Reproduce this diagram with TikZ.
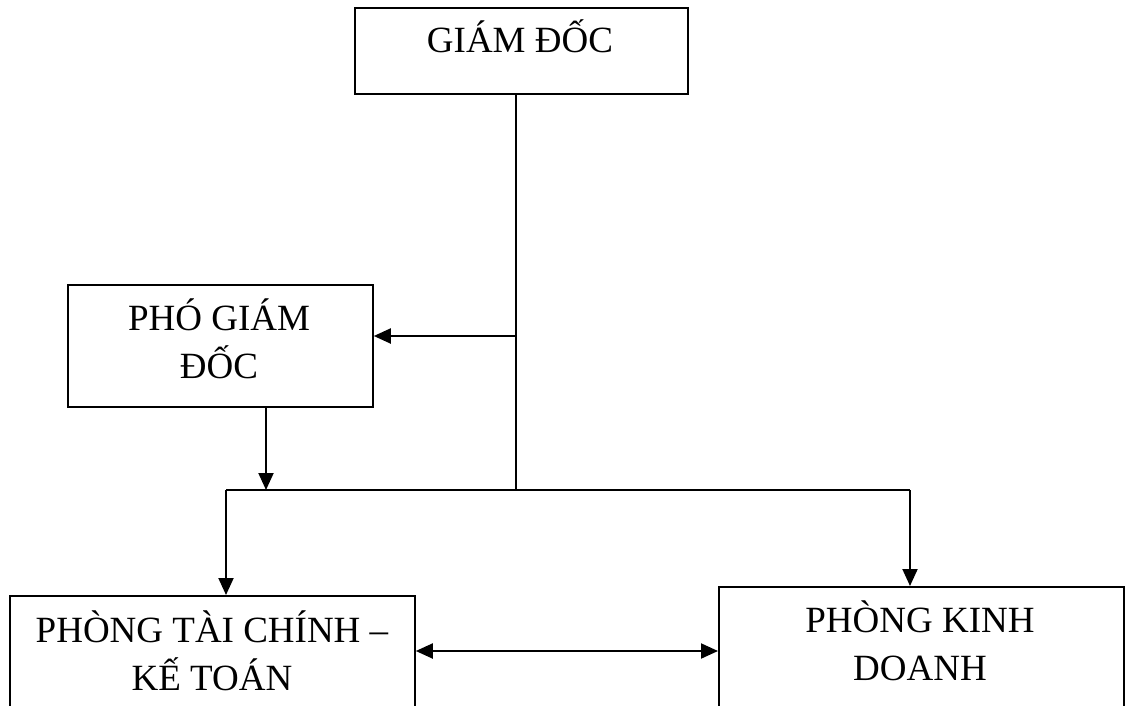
\documentclass[tikz,border=0pt]{standalone}
\usepackage{fontspec}
\setmainfont{Liberation Serif}
\usetikzlibrary{arrows.meta}
\begin{document}
\begin{tikzpicture}[x=1pt,y=-1pt,
  box/.style={draw, line width=1.8pt, inner sep=0pt, anchor=north west},
  txt/.style={font=\fontsize{37}{48}\selectfont, align=center, inner sep=0pt, anchor=base},
  link/.style={line width=2pt},
  tip/.style={Triangle[length=17pt,width=15pt]},
  arr/.style={link, -{Triangle[length=17pt,width=15pt]}},
  darr/.style={link, {Triangle[length=17pt,width=15pt]}-{Triangle[length=17pt,width=15pt]}}]
  \clip (0,0) rectangle (1126,706);

  % boxes
  \node[box, minimum width=333pt, minimum height=86pt] (gd) at (354,7) {};
  \node[box, minimum width=305pt, minimum height=122pt] (pgd) at (67,284) {};
  \node[box, minimum width=405pt, minimum height=150pt] (tc) at (9,595) {};
  \node[box, minimum width=405pt, minimum height=150pt] (kd) at (718,586) {};

  % box texts (anchored on the baseline of the last line)
  \node[txt] (gdt) at (520,53) {GIÁM ĐỐC};
  \node[txt] (pgdt) at (219,378) {PHÓ GIÁM\\ĐỐC};
  \node[txt] (tct) at (212,690) {PHÒNG TÀI CHÍNH –\\KẾ TOÁN};
  \node[txt] (kdt) at (920,680) {PHÒNG KINH\\DOANH};

  % junction points
  \coordinate (j1) at (516,336);
  \coordinate (j2) at (516,490);
  \coordinate (p1) at (266,490);
  \coordinate (bl) at (226,490);
  \coordinate (br) at (910,490);
  \coordinate (m) at (566,651);

  % connectors
  \draw[link] (gd.south -| j1) -- (j2);
  \draw[arr] (j1) -- (pgd.east |- j1);
  \draw[arr] (pgd.south -| p1) -- (p1);
  \draw[link] (bl) -- (br);
  \draw[arr] (bl) -- (tc.north -| bl);
  \draw[arr] (br) -- (kd.north -| br);
  \draw[darr] (tc.east |- m) -- (kd.west |- m);
\end{tikzpicture}
\end{document}
